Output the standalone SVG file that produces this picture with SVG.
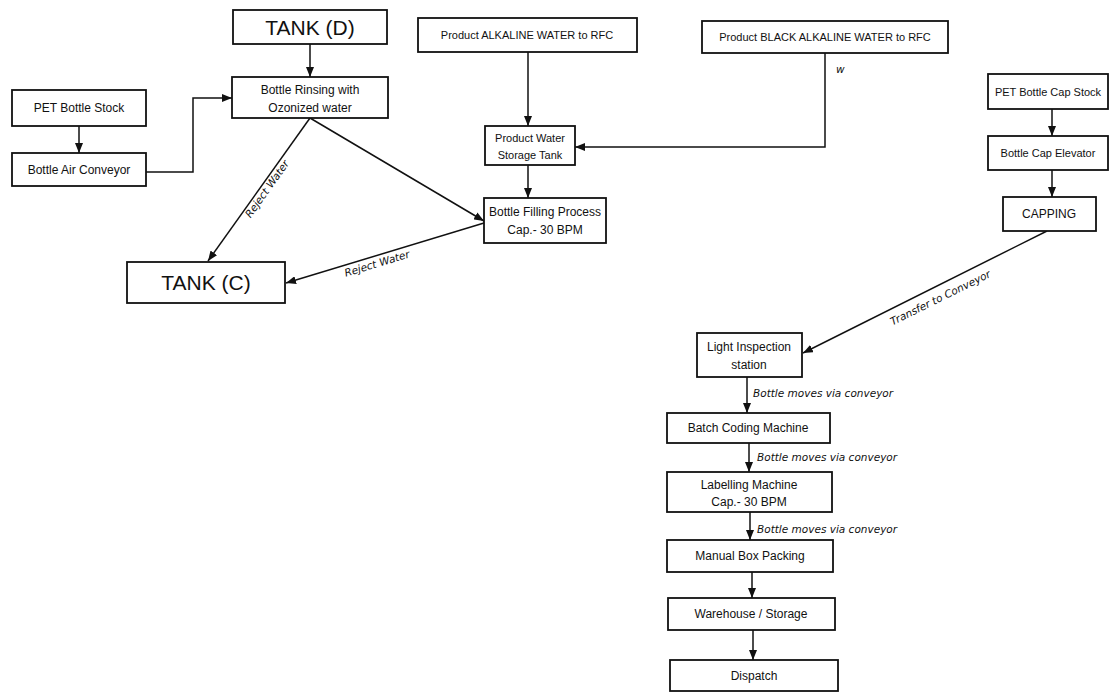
<svg xmlns="http://www.w3.org/2000/svg" width="1116" height="694" viewBox="0 0 1116 694">
<defs>
<style>
.box{fill:#fff;stroke:#111;stroke-width:1.8}
.t{font-family:"Liberation Sans",Arial,sans-serif;font-size:12px;fill:#111;text-anchor:middle}
.s{font-size:11px}
.big{font-size:21px}
.lbl{font-family:"DejaVu Sans","Liberation Sans",sans-serif;font-style:italic;font-size:10.5px;fill:#111}
.ln{fill:none;stroke:#111;stroke-width:1.5}
</style>
<marker id="ah" markerUnits="userSpaceOnUse" markerWidth="10" markerHeight="8" refX="10" refY="4" orient="auto">
<path d="M0,0 L10,4 L0,8 z" fill="#111"/>
</marker>
</defs>
<rect width="1116" height="694" fill="#fff"/>
<g id="connectors">
<path class="ln" d="M310,44 L310,77" marker-end="url(#ah)"/>
<path class="ln" d="M79,126 L79,153" marker-end="url(#ah)"/>
<path class="ln" d="M146,172 L193,172 L193,98 L232,98" marker-end="url(#ah)"/>
<path class="ln" d="M310,118 L208,261" marker-end="url(#ah)"/>
<path class="ln" d="M310,118 L484,221" marker-end="url(#ah)"/>
<path class="ln" d="M484,223 L286,283" marker-end="url(#ah)"/>
<path class="ln" d="M528,52 L528,126" marker-end="url(#ah)"/>
<path class="ln" d="M528,165 L528,198" marker-end="url(#ah)"/>
<path class="ln" d="M825,53 L825,147 L575,147" marker-end="url(#ah)"/>
<path class="ln" d="M1052,109 L1052,136" marker-end="url(#ah)"/>
<path class="ln" d="M1052,170 L1052,197" marker-end="url(#ah)"/>
<path class="ln" d="M1047,231 L803,353" marker-end="url(#ah)"/>
<path class="ln" d="M747,377 L747,413" marker-end="url(#ah)"/>
<path class="ln" d="M749,443 L749,472" marker-end="url(#ah)"/>
<path class="ln" d="M750,512 L750,540" marker-end="url(#ah)"/>
<path class="ln" d="M752,572 L752,598" marker-end="url(#ah)"/>
<path class="ln" d="M753,630 L753,660" marker-end="url(#ah)"/>
<text class="lbl" transform="translate(270,191) rotate(-54.5)" text-anchor="middle">Reject Water</text>
<text class="lbl" transform="translate(378,267) rotate(-16.8)" text-anchor="middle">Reject Water</text>
<text class="lbl" transform="translate(942,301) rotate(-26.3)" text-anchor="middle">Transfer to Conveyor</text>
<text class="lbl" x="836" y="73" font-style="normal" font-size="9px">w</text>
<text class="lbl" x="753" y="397">Bottle moves via conveyor</text>
<text class="lbl" x="757" y="461">Bottle moves via conveyor</text>
<text class="lbl" x="757" y="533">Bottle moves via conveyor</text>
</g>
<g id="tankD"><rect class="box" x="233" y="10" width="154" height="34"/><text class="t big" x="310" y="35">TANK (D)</text></g>
<g id="rinsing"><rect class="box" x="232" y="77" width="156" height="41"/><text class="t" x="310" y="94">Bottle Rinsing with</text><text class="t" x="310" y="112">Ozonized water</text></g>
<g id="petStock"><rect class="box" x="12" y="90" width="134" height="36"/><text class="t" x="79" y="112">PET Bottle Stock</text></g>
<g id="airConveyor"><rect class="box" x="12" y="153" width="134" height="33"/><text class="t" x="79" y="174">Bottle Air Conveyor</text></g>
<g id="prodAlkaline"><rect class="box" x="418" y="18" width="219" height="34"/><text class="t s" x="527" y="39">Product  ALKALINE WATER to RFC</text></g>
<g id="prodBlack"><rect class="box" x="702" y="21" width="246" height="32"/><text class="t s" x="825" y="41">Product BLACK ALKALINE WATER to RFC</text></g>
<g id="storage"><rect class="box" x="485" y="126" width="90" height="39"/><text class="t s" x="530" y="142">Product Water</text><text class="t s" x="530" y="159">Storage Tank</text></g>
<g id="filling"><rect class="box" x="484" y="198" width="122" height="45"/><text class="t" x="545" y="216">Bottle Filling Process</text><text class="t" x="545" y="234">Cap.- 30 BPM</text></g>
<g id="tankC"><rect class="box" x="127" y="262" width="158" height="41"/><text class="t big" x="206" y="290">TANK (C)</text></g>
<g id="capStock"><rect class="box" x="988" y="74" width="120" height="35"/><text class="t s" x="1048" y="96">PET Bottle Cap Stock</text></g>
<g id="capElevator"><rect class="box" x="988" y="136" width="120" height="34"/><text class="t s" x="1048" y="157">Bottle Cap Elevator</text></g>
<g id="capping"><rect class="box" x="1003" y="197" width="93" height="34"/><text class="t" x="1049" y="218">CAPPING</text></g>
<g id="lightInspection"><rect class="box" x="697" y="333" width="105" height="44"/><text class="t" x="749" y="351">Light Inspection</text><text class="t" x="749" y="369">station</text></g>
<g id="batchCoding"><rect class="box" x="667" y="413" width="163" height="30"/><text class="t" x="748" y="432">Batch Coding Machine</text></g>
<g id="labelling"><rect class="box" x="667" y="472" width="165" height="40"/><text class="t" x="749" y="489">Labelling Machine</text><text class="t" x="749" y="506">Cap.- 30 BPM</text></g>
<g id="manualPacking"><rect class="box" x="667" y="540" width="166" height="32"/><text class="t" x="750" y="560">Manual Box Packing</text></g>
<g id="warehouse"><rect class="box" x="668" y="598" width="167" height="32"/><text class="t" x="751" y="618">Warehouse / Storage</text></g>
<g id="dispatch"><rect class="box" x="670" y="660" width="168" height="31"/><text class="t" x="754" y="680">Dispatch</text></g>
</svg>
